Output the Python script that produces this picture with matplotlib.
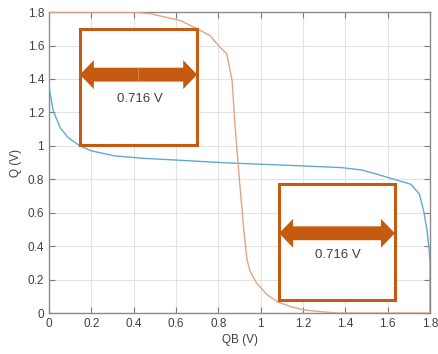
import matplotlib.pyplot as plt
from matplotlib.patches import Rectangle

plt.rcParams['font.family'] = ['Liberation Sans', 'DejaVu Sans']

# blue curve: Q vs QB
blue_x = [0, 0.0, 0.003, 0.02, 0.052, 0.09, 0.146, 0.2, 0.31, 0.45, 0.6, 0.81, 1.0, 1.2,
          1.38, 1.48, 1.55, 1.63, 1.71, 1.75, 1.77, 1.785, 1.795, 1.8, 1.8]
blue_y = [1.8, 1.4, 1.33, 1.21, 1.11, 1.05, 1.0, 0.97, 0.94, 0.925, 0.915, 0.90, 0.89, 0.88,
          0.87, 0.855, 0.83, 0.80, 0.77, 0.71, 0.61, 0.5, 0.39, 0.3, 0.0]

# orange curve: the mirrored inverter
orange_x = [0, 0.4, 0.48, 0.62, 0.70, 0.76, 0.808, 0.84, 0.865, 0.88, 0.90, 0.92, 0.935,
            0.95, 0.98, 1.03, 1.08, 1.15, 1.2, 1.28, 1.36, 1.8]
orange_y = [1.8, 1.8, 1.79, 1.75, 1.70, 1.66, 1.59, 1.55, 1.39, 1.1, 0.79, 0.5, 0.32,
            0.25, 0.18, 0.11, 0.066, 0.035, 0.02, 0.008, 0.0, 0.0]

# annotation boxes: (x0, x1, y_bottom, y_top, arrow_y, text_x, text_y)
boxes = [
    (0.146, 0.70, 1.007, 1.70, 1.426, 0.43, 1.28),
    (1.087, 1.634, 0.077, 0.769, 0.477, 1.365, 0.346),
]
box_label = '0.716 V'

ticks_x = [0, 0.2, 0.4, 0.6, 0.8, 1, 1.2, 1.4, 1.6, 1.8]
ticks_y = [0, 0.2, 0.4, 0.6, 0.8, 1, 1.2, 1.4, 1.6, 1.8]
tick_labels = ['0', '0.2', '0.4', '0.6', '0.8', '1', '1.2', '1.4', '1.6', '1.8']

box_color = '#c55a11'
text_color = '#404040'

fig = plt.figure(figsize=(4.39, 3.54), dpi=100)
ax = fig.add_axes([0.1116, 0.1158, 0.868, 0.850])

ax.plot(blue_x, blue_y, color='#62a9d2', lw=1.0, zorder=3)
ax.plot(orange_x, orange_y, color='#e4a484', lw=1.0, zorder=3)

for x0, x1, yb, yt, ay, tx, ty in boxes:
    ax.add_patch(Rectangle((x0, yb), x1 - x0, yt - yb, fill=True, facecolor='white',
                           edgecolor=box_color, lw=2.2, zorder=4))
    xm = (x0 + x1) / 2
    for end in (x0, x1):
        ax.arrow(xm, ay, end - xm, 0, width=0.083, head_width=0.173, head_length=0.066,
                 length_includes_head=True, color=box_color, lw=0, zorder=5)
    ax.text(tx, ty, box_label, ha='center', va='center', fontsize=9.5,
            color=text_color, zorder=6)

ax.set_xlim(0, 1.8)
ax.set_ylim(0, 1.8)
ax.set_xticks(ticks_x)
ax.set_xticklabels(tick_labels)
ax.set_yticks(ticks_y)
ax.set_yticklabels(tick_labels)
ax.grid(True, color='#e3e3e3', lw=0.8)
ax.set_axisbelow(True)
ax.tick_params(direction='in', length=4, width=0.8, top=True, right=True,
               labelsize=8.5, colors='#7a7a7a', labelcolor=text_color)
for s in ax.spines.values():
    s.set_color('#8a8a8a')
    s.set_linewidth(1.0)
ax.set_xlabel('QB (V)', fontsize=8.5, color=text_color, labelpad=3)
ax.set_ylabel('Q (V)', fontsize=8.5, color=text_color, labelpad=4)

fig.savefig('out.png', dpi=100)
